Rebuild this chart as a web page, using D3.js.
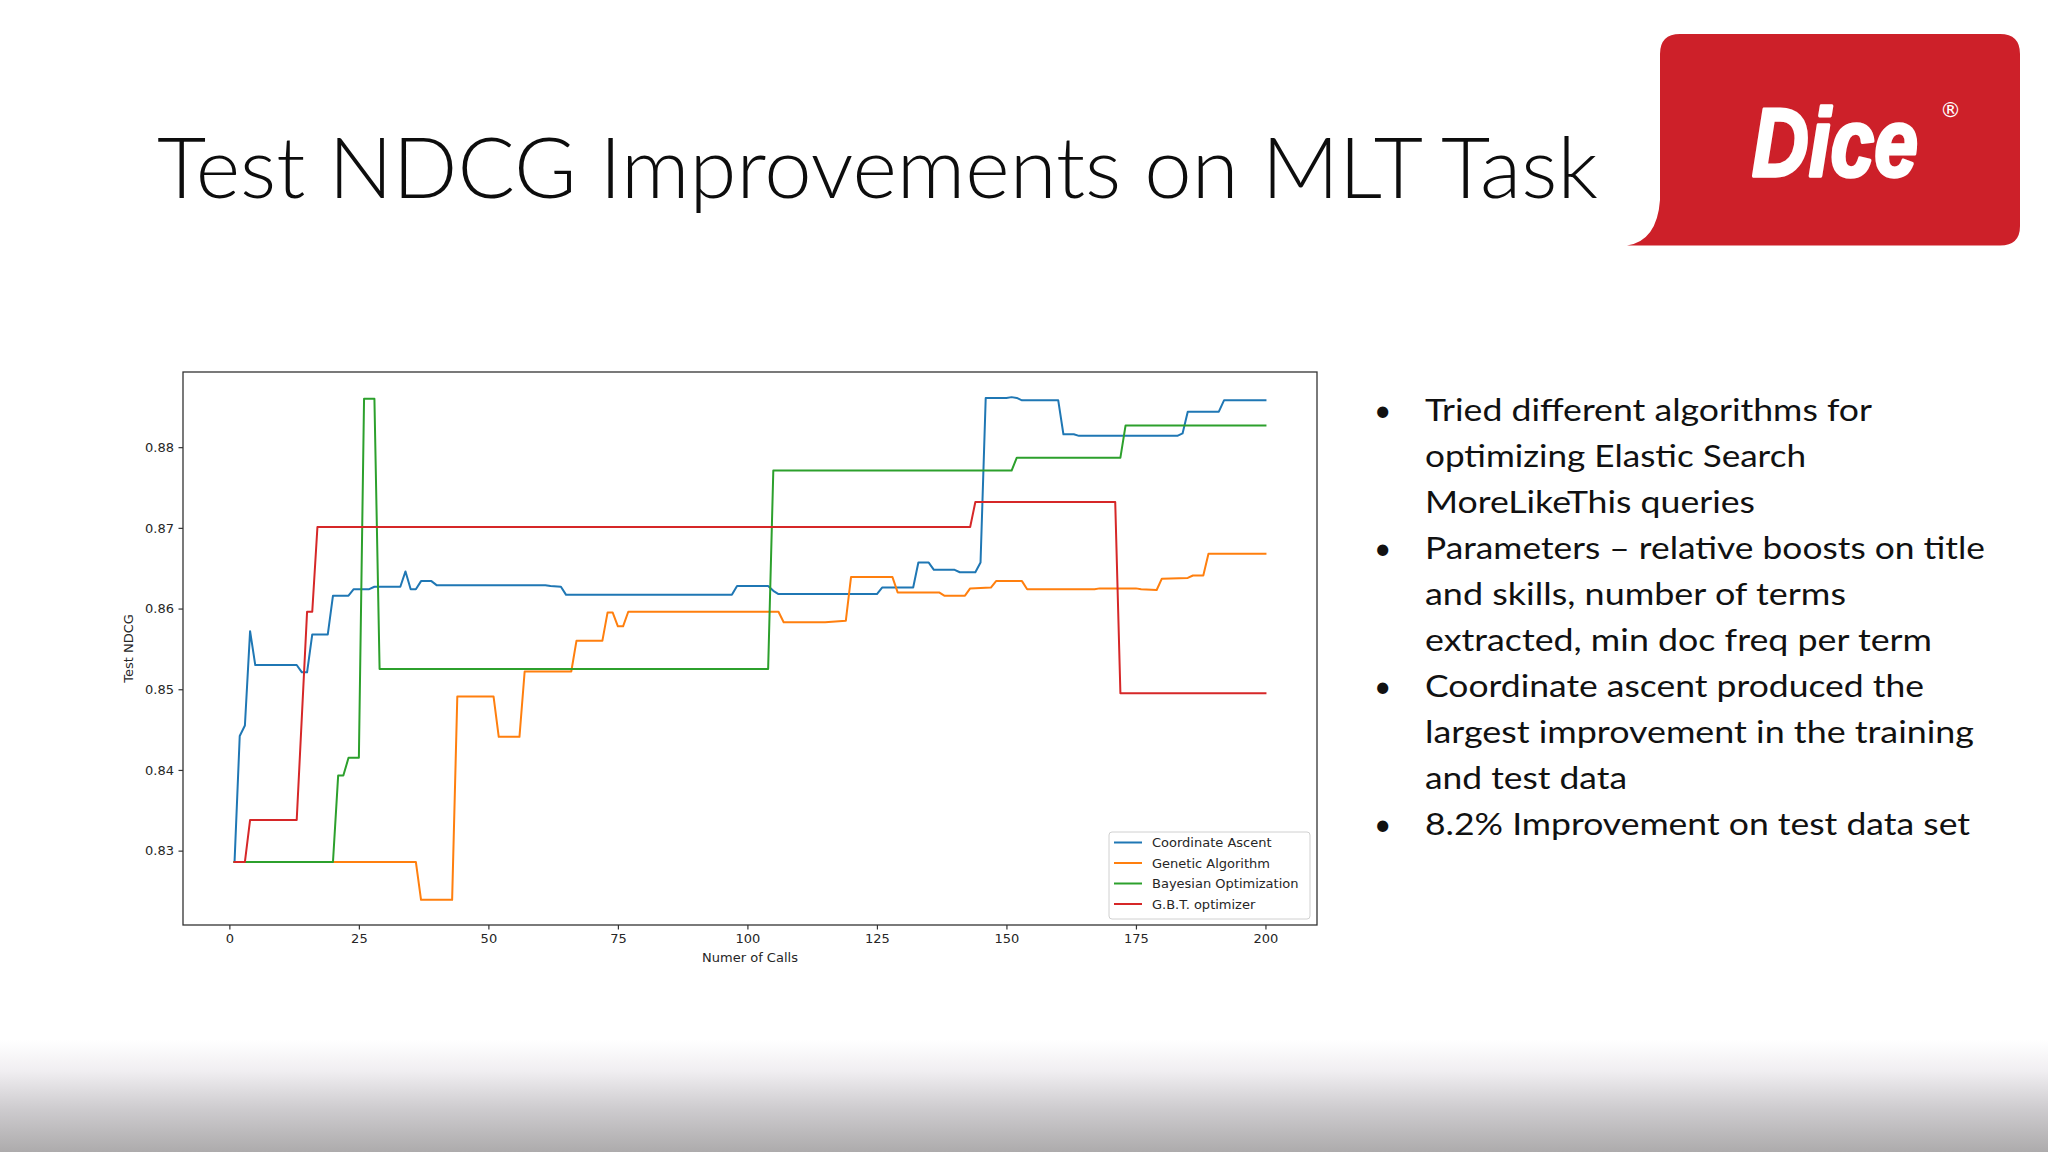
<!DOCTYPE html>
<html>
<head>
<meta charset="utf-8">
<script src="https://cdn.jsdelivr.net/npm/d3@7"></script>
<style>
  html, body { margin: 0; padding: 0; background: #ffffff; }
  svg { display: block; }
</style>
</head>
<body>
<svg id="slide" width="2048" height="1152"></svg>
<script>
// ---------------- DATA ----------------
const seriesNames = ["Coordinate Ascent", "Genetic Algorithm", "Bayesian Optimization", "G.B.T. optimizer"];
const seriesColors = ["#1f77b4", "#ff7f0e", "#2ca02c", "#d62728"];

// [number of calls, test NDCG] vertices
const coordinateAscent = [
  [1,0.8286],[2,0.8442],[3,0.8455],[4,0.8572],[5,0.8530],[13,0.8530],[14,0.8521],[15,0.8521],
  [16,0.8568],[19,0.8568],[20,0.8616],[23,0.8616],[24,0.8624],[27,0.8624],[28,0.8627],[33,0.8627],
  [34,0.8646],[35,0.8624],[36,0.8624],[37,0.8634],[39,0.8634],[40,0.8629],[61,0.8629],[62,0.8628],
  [64,0.8627],[65,0.8617],[97,0.8617],[98,0.8628],[104,0.8628],[105,0.8622],[106,0.8618],[125,0.8618],
  [126,0.8626],[132,0.8626],[133,0.8657],[135,0.8657],[136,0.8648],[140,0.8648],[141,0.8645],[144,0.8645],
  [145,0.8657],[146,0.8861],[150,0.8861],[151,0.8862],[152,0.8861],[153,0.8858],[160,0.8858],[161,0.8816],
  [163,0.8816],[164,0.8814],[183,0.8814],[184,0.8817],[185,0.8844],[191,0.8844],[192,0.8858],[200,0.8858]
];
const geneticAlgorithm = [
  [1,0.8286],[36,0.8286],[37,0.8239],[43,0.8239],[44,0.8491],[51,0.8491],[52,0.8441],[56,0.8441],
  [57,0.8522],[66,0.8522],[67,0.8560],[72,0.8560],[73,0.8595],[74,0.8595],[75,0.8578],[76,0.8578],
  [77,0.8596],[106,0.8596],[107,0.8583],[115,0.8583],[119,0.8585],[120,0.8639],[128,0.8639],[129,0.8620],
  [137,0.8620],[138,0.8616],[142,0.8616],[143,0.8625],[147,0.8626],[148,0.8634],[153,0.8634],[154,0.8624],
  [167,0.8624],[168,0.8625],[175,0.8625],[176,0.8624],[179,0.8623],[180,0.8637],[185,0.8638],[186,0.8641],
  [188,0.8641],[189,0.8668],[200,0.8668]
];
const bayesianOptimization = [
  [1,0.8286],[20,0.8286],[21,0.8393],[22,0.8393],[23,0.8415],[25,0.8415],[26,0.8860],[28,0.8860],
  [29,0.8525],[104,0.8525],[105,0.8771],[151,0.8771],[152,0.8787],[172,0.8787],[173,0.8827],[200,0.8827]
];
const gbtOptimizer = [
  [1,0.8286],[3,0.8286],[4,0.8338],[13,0.8338],[15,0.8596],[16,0.8596],[17,0.8701],[143,0.8701],
  [144,0.8732],[171,0.8732],[172,0.8495],[200,0.8495]
];
const allSeries = [coordinateAscent, geneticAlgorithm, bayesianOptimization, gbtOptimizer];

const xTicks = [0, 25, 50, 75, 100, 125, 150, 175, 200];
const yTicks = [0.83, 0.84, 0.85, 0.86, 0.87, 0.88];

const titleText = "Test NDCG Improvements on MLT Task";
const bullets = [
  ["Tried different algorithms for", "optimizing Elastic Search", "MoreLikeThis queries"],
  ["Parameters \u2013 relative boosts on title", "and skills, number of terms", "extracted, min doc freq per term"],
  ["Coordinate ascent produced the", "largest improvement in the training", "and test data"],
  ["8.2% Improvement on test data set"]
];
const bulletWidths = [
  [447, 381, 330], [560, 421, 507], [499, 549, 202], [545]
];

// ---------------- SLIDE ----------------
const svg = d3.select("#slide");
const defs = svg.append("defs");

svg.append("rect").attr("width", 2048).attr("height", 1152).attr("fill", "#ffffff");

// bottom grey fade
const grad = defs.append("linearGradient").attr("id", "fade")
  .attr("x1", 0).attr("y1", 0).attr("x2", 0).attr("y2", 1);
grad.append("stop").attr("offset", "0%").attr("stop-color", "#ffffff");
grad.append("stop").attr("offset", "28%").attr("stop-color", "#f0eef1");
grad.append("stop").attr("offset", "60%").attr("stop-color", "#cfcdd0");
grad.append("stop").attr("offset", "100%").attr("stop-color", "#adabac");
svg.append("rect").attr("x", 0).attr("y", 1040).attr("width", 2048).attr("height", 112)
  .attr("fill", "url(#fade)");

// title
svg.append("text")
  .attr("x", 157).attr("y", 198)
  .attr("font-family", "Lato, 'Open Sans', 'Noto Sans', sans-serif")
  .attr("font-weight", 300)
  .attr("font-size", 85)
  .attr("fill", "#0d0d0d")
  .attr("textLength", 1441)
  .attr("lengthAdjust", "spacingAndGlyphs")
  .text(titleText);

// Dice logo
const logo = svg.append("g");
logo.append("path")
  .attr("d", "M1680,34 H2000 Q2020,34 2020,54 V226 Q2020,245.5 2000,245.5 H1627 Q1657,241 1660,200 V54 Q1660,34 1680,34 Z")
  .attr("fill", "#cd2029");
logo.append("text")
  .attr("transform", "translate(1752,176) scale(1,1.16)")
  .attr("x", 0).attr("y", 0)
  .attr("font-family", "'Liberation Sans', 'DejaVu Sans', sans-serif")
  .attr("font-weight", "bold").attr("font-style", "italic")
  .attr("font-size", 83)
  .attr("fill", "#ffffff").attr("stroke", "#ffffff").attr("stroke-width", 3)
  .attr("stroke-linejoin", "round")
  .attr("textLength", 166).attr("lengthAdjust", "spacingAndGlyphs")
  .text("Dice");
logo.append("text")
  .attr("x", 1940).attr("y", 117)
  .attr("font-family", "'DejaVu Sans', sans-serif")
  .attr("font-size", 21)
  .attr("fill", "#ffffff")
  .text("\u00AE");

// bullets
const bulletG = svg.append("g")
  .attr("font-family", "Lato, 'Open Sans', 'Noto Sans', sans-serif")
  .attr("font-size", 30)
  .attr("fill", "#111111");
let lineIdx = 0;
bullets.forEach((para, pi) => {
  para.forEach((ln, li) => {
    const y = 421 + lineIdx * 46.05;
    if (li === 0) {
      bulletG.append("text").attr("x", 1374).attr("y", y).attr("font-size", 30).text("\u2022");
    }
    bulletG.append("text")
      .attr("x", 1425).attr("y", y)
      .attr("textLength", bulletWidths[pi][li])
      .attr("lengthAdjust", "spacingAndGlyphs")
      .text(ln);
    lineIdx++;
  });
});

// ---------------- CHART ----------------
const plot = { left: 183, top: 372, right: 1317, bottom: 925 };

const xExt = d3.extent(allSeries.flat(), d => d[0]);
const yExt = d3.extent(allSeries.flat(), d => d[1]);
const xPad = (xExt[1] - xExt[0]) * 0.05;
const yPad = (yExt[1] - yExt[0]) * 0.05;

const x = d3.scaleLinear().domain([xExt[0] - xPad, xExt[1] + xPad]).range([plot.left, plot.right]);
const y = d3.scaleLinear().domain([yExt[0] - yPad, yExt[1] + yPad]).range([plot.bottom, plot.top]);

const chart = svg.append("g");

const line = d3.line().x(d => x(d[0])).y(d => y(d[1]));
defs.append("clipPath").attr("id", "plotclip").append("rect")
  .attr("x", plot.left).attr("y", plot.top)
  .attr("width", plot.right - plot.left).attr("height", plot.bottom - plot.top);

const linesG = chart.append("g").attr("clip-path", "url(#plotclip)");
allSeries.forEach((s, i) => {
  linesG.append("path")
    .attr("d", line(s))
    .attr("fill", "none")
    .attr("stroke", seriesColors[i])
    .attr("stroke-width", 2)
    .attr("stroke-linejoin", "round")
    .attr("stroke-linecap", "square");
});

// frame
chart.append("rect")
  .attr("x", plot.left).attr("y", plot.top)
  .attr("width", plot.right - plot.left).attr("height", plot.bottom - plot.top)
  .attr("fill", "none").attr("stroke", "#333333").attr("stroke-width", 1.3);

// axes
const xAxis = chart.append("g")
  .attr("transform", `translate(0,${plot.bottom})`)
  .call(d3.axisBottom(x).tickValues(xTicks).tickFormat(d3.format("d")).tickSize(4.5).tickPadding(4.5));
const yAxis = chart.append("g")
  .attr("transform", `translate(${plot.left},0)`)
  .call(d3.axisLeft(y).tickValues(yTicks).tickFormat(d3.format(".2f")).tickSize(4.5).tickPadding(4.5));
[xAxis, yAxis].forEach(a => {
  a.select(".domain").remove();
  a.selectAll(".tick line").attr("stroke", "#333333").attr("stroke-width", 1.2);
  a.selectAll(".tick text")
    .attr("font-family", "'DejaVu Sans', sans-serif")
    .attr("font-size", 13)
    .attr("fill", "#262626");
});

// axis labels
chart.append("text")
  .attr("x", (plot.left + plot.right) / 2).attr("y", 962)
  .attr("text-anchor", "middle")
  .attr("font-family", "'DejaVu Sans', sans-serif").attr("font-size", 13)
  .attr("fill", "#262626")
  .text("Numer of Calls");
chart.append("text")
  .attr("transform", `translate(133,${(plot.top + plot.bottom) / 2}) rotate(-90)`)
  .attr("text-anchor", "middle")
  .attr("font-family", "'DejaVu Sans', sans-serif").attr("font-size", 13)
  .attr("fill", "#262626")
  .text("Test NDCG");

// legend
const legend = chart.append("g");
legend.append("rect")
  .attr("x", 1109).attr("y", 832).attr("width", 201).attr("height", 87).attr("rx", 3)
  .attr("fill", "#ffffff").attr("fill-opacity", 0.8)
  .attr("stroke", "#d0d0d0").attr("stroke-width", 1);
seriesNames.forEach((name, i) => {
  const cy = 842.5 + i * 20.5;
  legend.append("line")
    .attr("x1", 1114).attr("x2", 1142).attr("y1", cy).attr("y2", cy)
    .attr("stroke", seriesColors[i]).attr("stroke-width", 2);
  legend.append("text")
    .attr("x", 1152).attr("y", cy).attr("dy", "0.36em")
    .attr("font-family", "'DejaVu Sans', sans-serif").attr("font-size", 13)
    .attr("fill", "#262626")
    .text(name);
});
</script>
</body>
</html>
